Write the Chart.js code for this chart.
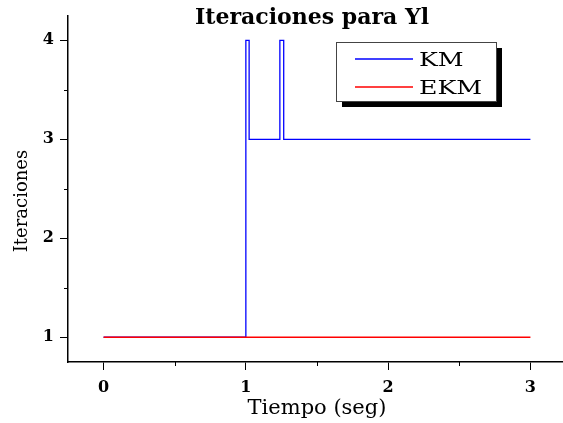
<!DOCTYPE html>
<html>
<head>
<meta charset="utf-8">
<script src="https://cdn.jsdelivr.net/npm/chart.js@4.4.0/dist/chart.umd.min.js"></script>
<style>
  html, body { margin: 0; padding: 0; background: #fff; overflow: hidden; }
  #wrap { width: 563px; height: 423px; overflow: hidden; }
</style>
</head>
<body>
<div id="wrap"><canvas id="chart" width="570" height="423"></canvas></div>
<script>
const chartTitle = 'Iteraciones para Yl';
const seriesNames = ['KM', 'EKM'];

// KM (blue) - time in seconds and iterations
const kmTime = [0, 1, 1, 1.023, 1.023, 1.239, 1.239, 1.266, 1.266, 3];
const kmIter = [1, 1, 4, 4, 3, 3, 4, 4, 3, 3];

// EKM (red)
const ekmTime = [0, 3];
const ekmIter = [1, 1];

const xTicks = [0, 1, 2, 3];
const yTicks = [1, 2, 3, 4];
const xMinorTicks = [0.5, 1.5, 2.5];
const yMinorTicks = [1.5, 2.5, 3.5];

const serif = '"DejaVu Serif", "Liberation Serif", serif';

function toPoints(xs, ys) {
  return xs.map((x, i) => ({ x: x, y: ys[i] }));
}

// title, y title, minor ticks and legend box
const decorations = {
  id: 'decorations',
  afterDraw(chart) {
    const ctx = chart.ctx;
    const area = chart.chartArea;
    const xs = chart.scales.x, ys = chart.scales.y;
    ctx.save();

    // minor ticks
    ctx.strokeStyle = '#000';
    ctx.lineWidth = 1;
    xMinorTicks.forEach(v => {
      const px = Math.round(xs.getPixelForValue(v)) + 0.5;
      ctx.beginPath();
      ctx.moveTo(px, area.bottom);
      ctx.lineTo(px, area.bottom + 4);
      ctx.stroke();
    });
    yMinorTicks.forEach(v => {
      const py = Math.round(ys.getPixelForValue(v)) + 0.5;
      ctx.beginPath();
      ctx.moveTo(area.left, py);
      ctx.lineTo(area.left - 4, py);
      ctx.stroke();
    });

    // title
    ctx.fillStyle = '#000';
    ctx.font = 'bold 22px ' + serif;
    ctx.textAlign = 'center';
    ctx.textBaseline = 'alphabetic';
    ctx.fillText(chartTitle, 312, 24);

    // y axis title
    ctx.save();
    ctx.translate(27, 201);
    ctx.rotate(-Math.PI / 2);
    ctx.font = '18px ' + serif;
    ctx.fillText('Iteraciones', 0, 0);
    ctx.restore();

    // legend box with shadow
    const bx = 336, by = 42, bw = 160, bh = 59;
    ctx.fillStyle = '#000';
    ctx.fillRect(bx + 6, by + 6, bw, bh);
    ctx.fillStyle = '#fff';
    ctx.fillRect(bx, by, bw, bh);
    ctx.strokeStyle = '#444';
    ctx.lineWidth = 1;
    ctx.strokeRect(bx + 0.5, by + 0.5, bw, bh);

    ctx.font = '18px ' + serif;
    ctx.textAlign = 'left';
    ctx.textBaseline = 'alphabetic';
    chart.data.datasets.forEach((ds, i) => {
      const ly = by + 17 + i * 28;
      ctx.strokeStyle = ds.borderColor;
      ctx.lineWidth = 1.5;
      ctx.beginPath();
      ctx.moveTo(355, ly);
      ctx.lineTo(413, ly);
      ctx.stroke();
      ctx.save();
      ctx.translate(419, ly + 7);
      ctx.scale(1.4, 1);
      ctx.fillStyle = '#000';
      ctx.fillText(ds.label, 0, 0);
      ctx.restore();
    });

    ctx.restore();
  }
};

const ctx = document.getElementById('chart').getContext('2d');
new Chart(ctx, {
  type: 'line',
  data: {
    datasets: [
      {
        label: seriesNames[0],
        data: toPoints(kmTime, kmIter),
        borderColor: '#0000ff',
        borderWidth: 1.3,
        pointRadius: 0,
        tension: 0,
        fill: false,
        order: 1
      },
      {
        label: seriesNames[1],
        data: toPoints(ekmTime, ekmIter),
        borderColor: '#ff0000',
        borderWidth: 1.6,
        pointRadius: 0,
        tension: 0,
        fill: false,
        order: 0
      }
    ]
  },
  options: {
    responsive: false,
    animation: false,
    layout: { padding: { top: 12, right: 4, left: 0, bottom: 0 } },
    plugins: {
      legend: { display: false },
      tooltip: { enabled: false },
      title: { display: false }
    },
    scales: {
      x: {
        type: 'linear',
        min: -0.25,
        max: 3.25,
        afterFit: (scale) => { scale.height = 61; },
        afterBuildTicks: (scale) => { scale.ticks = xTicks.map(v => ({ value: v })); },
        ticks: {
          color: '#000',
          font: { family: serif, size: 16, weight: 'bold' },
          padding: 8,
          maxRotation: 0
        },
        grid: { drawOnChartArea: false, drawTicks: true, tickLength: 8, color: '#000', lineWidth: 1 },
        border: { display: true, color: '#000', width: 1.5 },
        title: {
          display: true,
          text: 'Tiempo (seg)',
          color: '#000',
          font: { family: serif, size: 21 },
          padding: { top: 0, bottom: 2 }
        }
      },
      y: {
        type: 'linear',
        min: 0.75,
        max: 4.25,
        afterFit: (scale) => { scale.width = 68; },
        afterBuildTicks: (scale) => { scale.ticks = yTicks.map(v => ({ value: v })); },
        ticks: {
          color: '#000',
          font: { family: serif, size: 16, weight: 'bold' },
          padding: 6
        },
        grid: { drawOnChartArea: false, drawTicks: true, tickLength: 8, color: '#000', lineWidth: 1 },
        border: { display: true, color: '#000', width: 1.5 }
      }
    }
  },
  plugins: [decorations]
});
</script>
</body>
</html>
